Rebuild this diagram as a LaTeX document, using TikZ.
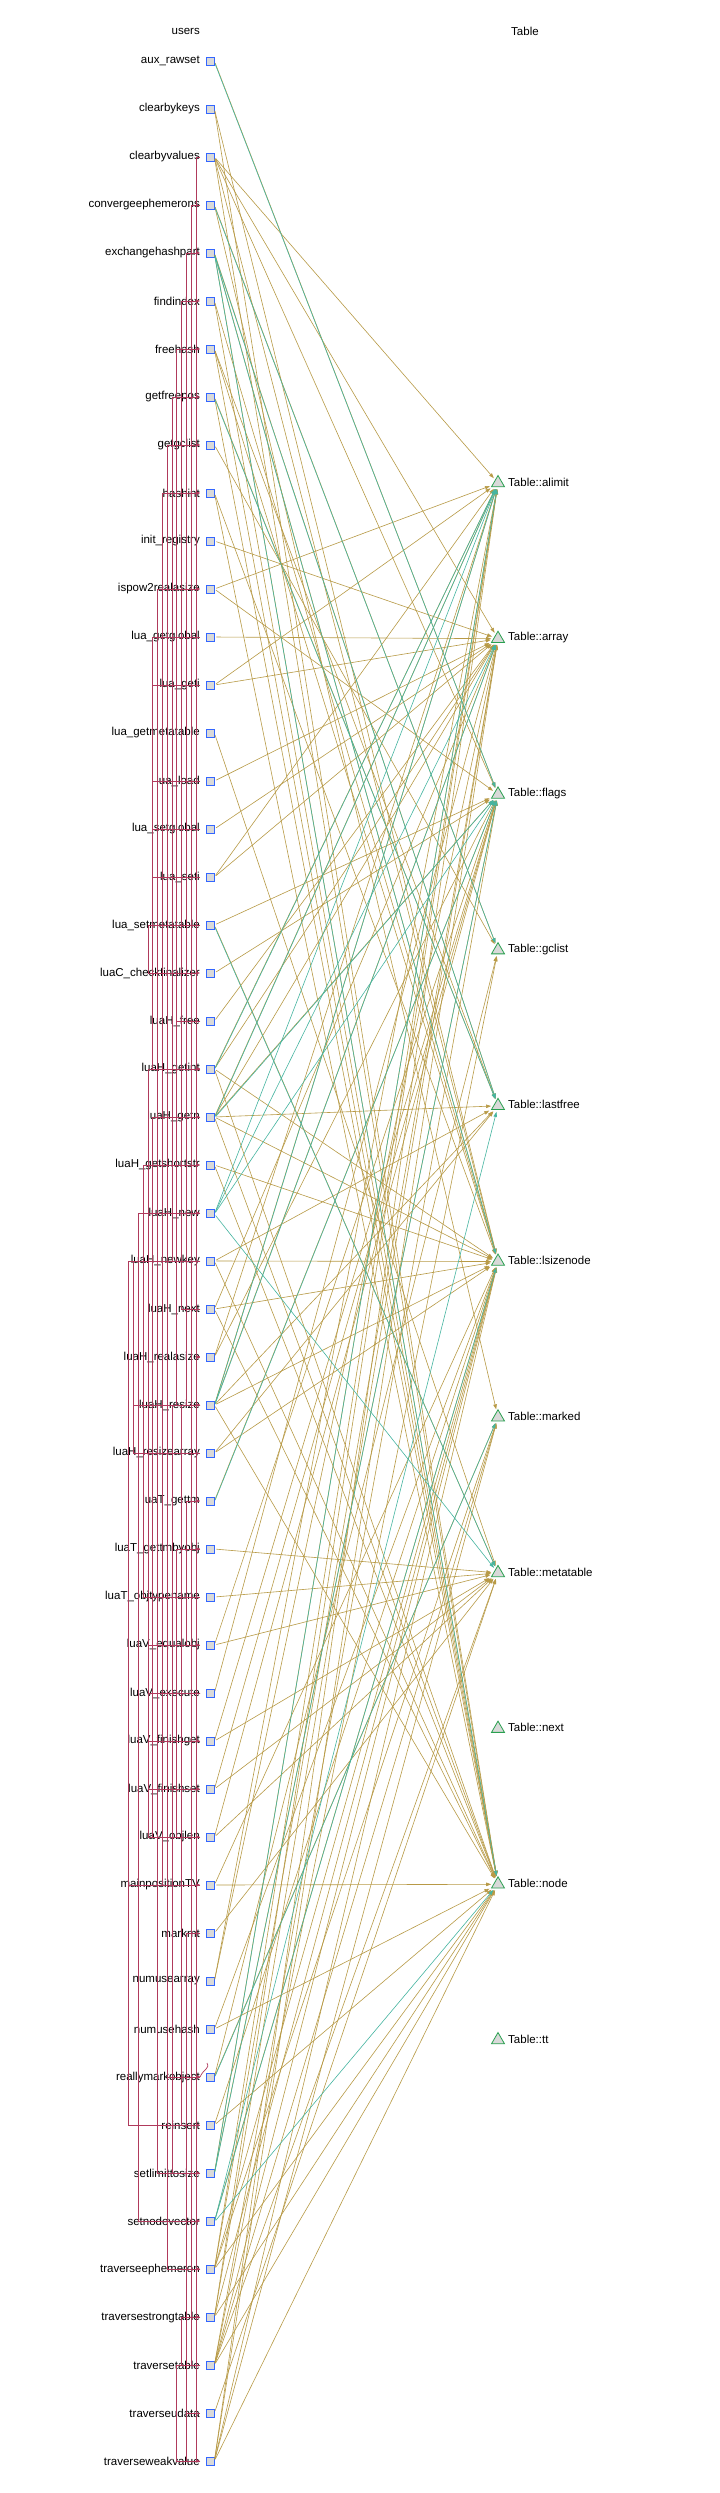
\documentclass[tikz,border=0pt]{standalone}
\usepackage{fontspec}
\setmainfont{Liberation Sans}
\usetikzlibrary{positioning, arrows.meta, shapes.geometric, calc}

\definecolor{readcol}{HTML}{B89A46}
\definecolor{writecol}{HTML}{45B5A0}
\definecolor{callcol}{HTML}{B03A5C}
\definecolor{boxblue}{HTML}{3366FF}
\definecolor{trigreen}{HTML}{2AA050}
\definecolor{fillgray}{HTML}{D9D9D9}

\begin{document}
\begin{tikzpicture}[
    x=1pt, y=-1pt,
    every node/.style={font=\fontsize{11.5}{13}\selectfont},
    userlabel/.style={anchor=east, inner sep=0pt},
    userbox/.style={rectangle, draw=boxblue, fill=fillgray, line width=0.8pt, minimum size=8pt, inner sep=0pt},
    fieldmark/.style={regular polygon, regular polygon sides=3, draw=trigreen, fill=fillgray, line width=0.8pt, minimum size=15pt, inner sep=0pt},
    fieldlabel/.style={anchor=west, inner sep=0pt},
    readedge/.style={-{Triangle[length=5pt,width=3.5pt]}, readcol, line width=0.6pt, shorten <=2pt, shorten >=2pt},
    writeedge/.style={readedge, writecol},
    callline/.style={callcol, line width=0.7pt},
    callarrow/.style={callline, -{Triangle[length=4pt,width=3pt]}}
]

\fill[white] (0,0) rectangle (720,2493);
\useasboundingbox (0,0) rectangle (720,2493);

% column headers
\node[userlabel] (usershead) at (200, 31) {users};
\node[fieldlabel] (tablehead) at (511, 31) {Table};

% the functions using the table fields
\foreach \name [count=\i] in {aux\_rawset, clearbykeys, clearbyvalues, convergeephemerons,
    exchangehashpart, findindex, freehash, getfreepos, getgclist, hashint, init\_registry,
    ispow2realasize, lua\_getglobal, lua\_geti, lua\_getmetatable, lua\_load, lua\_setglobal,
    lua\_seti, lua\_setmetatable, luaC\_checkfinalizer, luaH\_free, luaH\_getint, luaH\_getn,
    luaH\_getshortstr, luaH\_new, luaH\_newkey, luaH\_next, luaH\_realasize, luaH\_resize,
    luaH\_resizearray, luaT\_gettm, luaT\_gettmbyobj, luaT\_objtypename, luaV\_equalobj,
    luaV\_execute, luaV\_finishget, luaV\_finishset, luaV\_objlen, mainpositionTV, markmt,
    numusearray, numusehash, reallymarkobject, reinsert, setlimittosize, setnodevector,
    traverseephemeron, traversestrongtable, traversetable, traverseudata, traverseweakvalue} {
    \node[userlabel] (u\i) at (200, 13+48*\i) {\name};
    \node[userbox] (b\i) at (210, 13+48*\i) {};
}

% the fields of Table
\foreach \name [count=\j from 0] in {alimit, array, flags, gclist, lastfree, lsizenode,
    marked, metatable, next, node, tt} {
    \node[fieldmark] (f\j) at (498, 483+155.7*\j) {};
    \node[fieldlabel] (t\j) at (508, 482+155.7*\j) {Table::\name};
}

% reads
\foreach \u/\f in {1/2, 2/9, 2/5, 3/0, 3/1, 3/9, 3/5, 3/2, 4/6, 4/3, 5/9, 5/5, 5/4,
    6/9, 6/5, 7/9, 7/5, 7/4, 8/4, 8/9, 9/3, 10/9, 10/5, 11/1, 12/0, 12/2, 13/1,
    14/0, 14/1, 15/7, 16/1, 17/1, 18/0, 18/1, 19/7, 19/2, 20/2, 21/1,
    22/0, 22/1, 22/9, 22/5, 23/0, 23/1, 23/2, 23/4, 23/9, 23/5, 24/9, 24/5,
    26/9, 26/5, 26/4, 27/1, 27/9, 27/5, 28/0, 28/2, 29/0, 29/1, 29/9, 29/5, 29/4,
    30/4, 30/5, 31/2, 32/7, 33/7, 34/7, 34/2, 35/1, 36/7, 36/2, 37/7, 37/2,
    38/7, 38/2, 39/9, 39/5, 40/7, 41/0, 41/1, 42/9, 42/5, 43/6, 43/3, 44/9, 44/5,
    45/0, 45/2, 46/5, 47/0, 47/1, 47/9, 47/5, 47/6, 48/0, 48/1, 48/9, 48/5,
    49/2, 49/3, 49/6, 49/7, 49/9, 49/5, 50/7, 51/0, 51/1, 51/9, 51/5, 51/6}
    \draw[readedge] (b\u.east) -- (f\f);

% writes
\foreach \u/\f in {1/2, 4/3, 5/9, 5/5, 5/4, 8/4, 19/7, 22/0, 23/0, 23/2, 25/0, 25/1,
    25/2, 25/7, 29/0, 29/1, 31/2, 43/6, 45/0, 45/2, 46/9, 46/5, 46/4}
    \draw[writeedge] ([yshift=-1pt]b\u.east) -- (f\f);

% calls between the functions: channel / callee / callers
\foreach \k/\callee/\callers in {0/28/{3,21,23,27,45,47,48,51}, 1/47/{4,49}, 2/5/{29},
    3/6/{27}, 4/7/{21,29}, 5/8/{26}, 6/9/{43,47}, 7/10/{22,39}, 8/12/{23,45},
    9/22/{13,14,16,17,18}, 10/20/{19}, 9/23/{38}, 11/24/{33}, 12/46/{25,29},
    13/29/{26,30}, 14/39/{26,44}, 3/44/{29}, 5/45/{29}, 2/31/{34,32}, 4/32/{36,37,38},
    2/43/{40,50,48,51}, 3/48/{49}, 4/51/{49}} {
    \foreach \c in \callers
        \draw[callarrow] (u\c.east) -- ++({-(4+4.8*\k)},0) |- (u\callee.east);
}
% luaV_execute
\foreach \c in {22,24,25,29,34,36,37,38}
    \draw[callarrow] (u35.east) -- ++({-(4+4.8*10)},0) |- (u\c.east);

% reallymarkobject calls itself
\draw[callline] (u43.east) .. controls ($(u43.east)+(4,-9)$) and ($(u43.east)+(10,-8)$) .. ($(u43.east)+(7,-14)$);

\end{tikzpicture}
\end{document}
